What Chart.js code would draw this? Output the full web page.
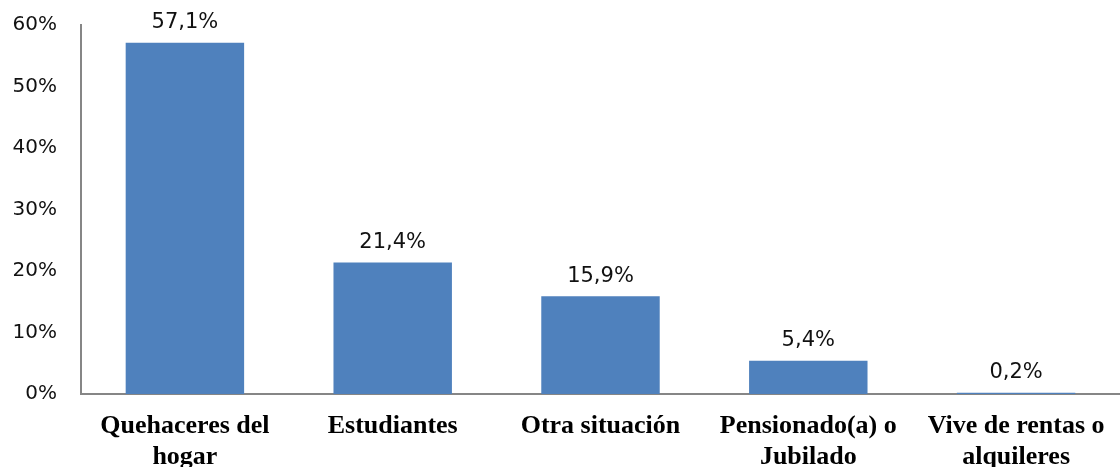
<!DOCTYPE html>
<html lang="es">
<head>
    <meta charset="UTF-8">
    <title>Condición de inactividad</title>
    <script src="https://cdn.jsdelivr.net/npm/chart.js"></script>
    <style>
        html, body { margin: 0; padding: 0; background: #fff; }
        #wrap { width: 1120px; height: 467px; }
    </style>
</head>
<body>
    <div id="wrap"><canvas id="chart"></canvas></div>
    <script>
        const categories = [
            ['Quehaceres del', 'hogar'],
            'Estudiantes',
            'Otra situación',
            ['Pensionado(a) o', 'Jubilado'],
            ['Vive de rentas o', 'alquileres']
        ];
        const values = [57.1, 21.4, 15.9, 5.4, 0.2];
        const yTicks = [0, 10, 20, 30, 40, 50, 60];

        const fmt = v => v.toFixed(1).replace('.', ',') + '%';

        // etiquetas de valor encima de cada barra
        const valueLabels = {
            id: 'valueLabels',
            afterDatasetsDraw(chart) {
                const ctx = chart.ctx;
                const meta = chart.getDatasetMeta(0);
                ctx.save();
                ctx.font = '21px "DejaVu Sans"';
                ctx.fillStyle = '#111';
                ctx.textAlign = 'center';
                ctx.textBaseline = 'middle';
                meta.data.forEach((bar, i) => {
                    ctx.fillText(fmt(values[i]), bar.x, bar.y - 20);
                });
                ctx.restore();
            }
        };

        new Chart(document.getElementById('chart'), {
            type: 'bar',
            data: {
                labels: categories,
                datasets: [{
                    data: values,
                    backgroundColor: '#4F81BD',
                    borderWidth: 0,
                    categoryPercentage: 1,
                    barPercentage: 0.57
                }]
            },
            options: {
                responsive: true,
                maintainAspectRatio: false,
                animation: false,
                layout: { padding: { top: 25, right: 0, left: 0, bottom: 0 } },
                plugins: {
                    legend: { display: false },
                    tooltip: { enabled: false }
                },
                scales: {
                    x: {
                        grid: { display: false, drawTicks: false },
                        border: { display: true, color: '#868686', width: 2 },
                        ticks: {
                            color: '#000',
                            padding: 17,
                            maxRotation: 0,
                            autoSkip: false,
                            font: { family: '"Liberation Serif"', size: 26, weight: 'bold', lineHeight: 1.18 }
                        },
                        afterFit(scale) {
                            scale.height = 73;
                            scale.paddingLeft = 0;
                            scale.paddingRight = 0;
                        }
                    },
                    y: {
                        min: 0,
                        max: 60,
                        afterBuildTicks(scale) {
                            scale.ticks = yTicks.map(v => ({ value: v }));
                        },
                        grid: { display: false, drawTicks: false },
                        border: { display: true, color: '#868686', width: 2 },
                        ticks: {
                            color: '#111',
                            padding: 24,
                            font: { family: '"DejaVu Sans"', size: 20 },
                            callback: v => v + '%'
                        },
                        afterFit(scale) {
                            scale.width = 81;
                            scale.paddingTop = 0;
                            scale.paddingBottom = 0;
                        }
                    }
                }
            },
            plugins: [valueLabels]
        });
    </script>
</body>
</html>
